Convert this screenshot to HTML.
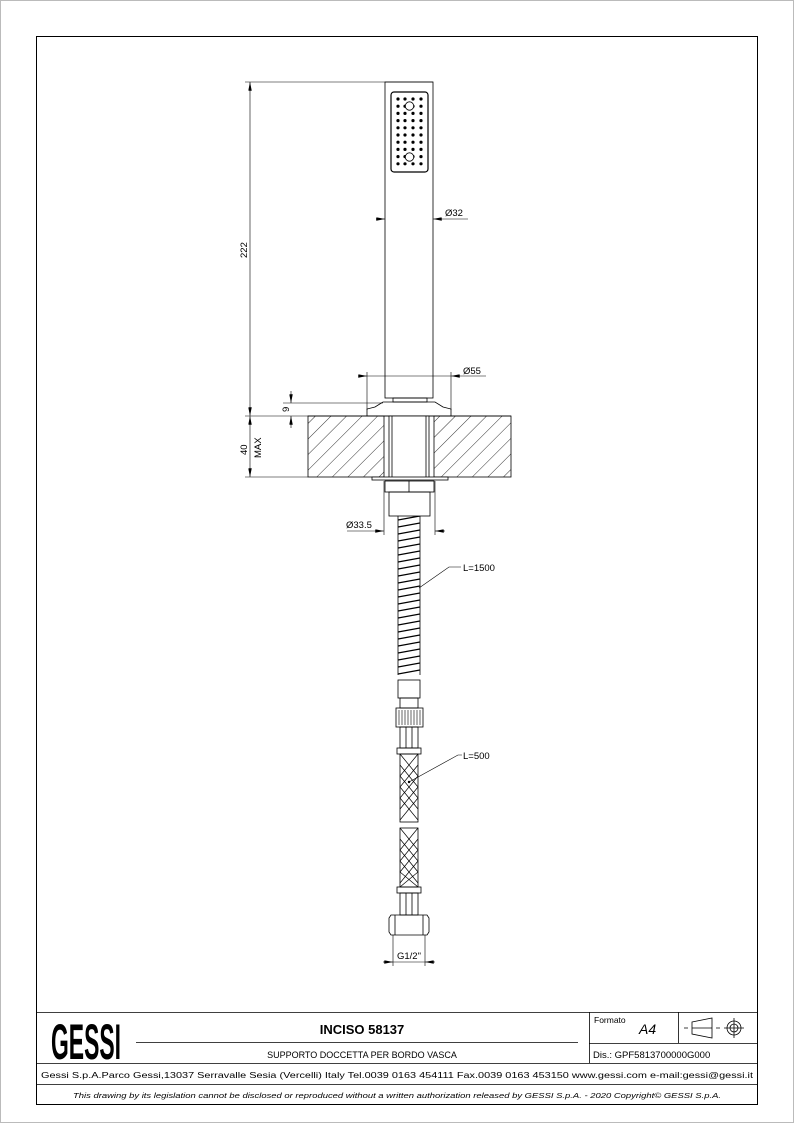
<!DOCTYPE html>
<html><head><meta charset="utf-8"><style>
html,body{margin:0;padding:0;background:#fff}
svg{display:block}
text{font-family:"Liberation Sans",Arial,sans-serif;fill:#000}
</style></head><body>
<svg width="794" height="1123" viewBox="0 0 794 1123" xmlns="http://www.w3.org/2000/svg">
<defs>
<marker id="ar" viewBox="0 0 10 4" refX="10" refY="2" markerUnits="userSpaceOnUse" markerWidth="9" markerHeight="3.5" orient="auto-start-reverse"><path d="M0,0 L10,2 L0,4 z" fill="#000"/></marker>
<pattern id="hatch" patternUnits="userSpaceOnUse" width="11" height="11" patternTransform="rotate(45)"><line x1="0" y1="0" x2="0" y2="11" stroke="#000" stroke-width="0.8"/></pattern>
<clipPath id="hoseclip"><rect x="398" y="516" width="22" height="159"/></clipPath>
</defs>
<rect x="0.5" y="0.5" width="793" height="1122" fill="none" stroke="#bbb"/>
<rect x="36.5" y="36.5" width="721" height="1068" fill="none" stroke="#000" stroke-width="1"/>

<g fill="none" stroke="#000" stroke-width="0.8">
<rect x="385" y="82" width="48" height="316"/>
<rect x="391" y="92" width="37" height="80" rx="3" stroke-width="1.2"/>
<line x1="245" y1="82" x2="433" y2="82" stroke-width="0.6"/>
<line x1="250" y1="82" x2="250" y2="416" marker-start="url(#ar)" marker-end="url(#ar)" stroke-width="0.6"/>
<line x1="245" y1="416" x2="308" y2="416" stroke-width="0.6"/>
<line x1="250" y1="416" x2="250" y2="477" marker-start="url(#ar)" marker-end="url(#ar)" stroke-width="0.6"/>
<line x1="245" y1="477" x2="308" y2="477" stroke-width="0.6"/>
<line x1="376" y1="219" x2="385" y2="219" marker-end="url(#ar)" stroke-width="0.6"/>
<line x1="433" y1="219" x2="468" y2="219" marker-start="url(#ar)" stroke-width="0.6"/>
<line x1="360" y1="376" x2="367" y2="376" marker-end="url(#ar)" stroke-width="0.6"/>
<line x1="367" y1="376" x2="451" y2="376" stroke-width="0.6"/>
<line x1="451" y1="376" x2="486" y2="376" marker-start="url(#ar)" stroke-width="0.6"/>
<line x1="367" y1="372" x2="367" y2="410" stroke-width="0.6"/>
<line x1="451" y1="372" x2="451" y2="410" stroke-width="0.6"/>
<rect x="393" y="398" width="34" height="4"/>
<path d="M383,402 L435,402 L443,407 L451,409 L451,416 L367,416 L367,409 L375,407 Z"/>
<line x1="283" y1="403" x2="383" y2="403" stroke-width="0.6"/>
<line x1="291" y1="391" x2="291" y2="403" marker-end="url(#ar)" stroke-width="0.6"/>
<line x1="291" y1="428" x2="291" y2="416" marker-end="url(#ar)" stroke-width="0.6"/>
</g>
<rect x="308" y="416" width="76" height="61" fill="url(#hatch)" stroke="#000" stroke-width="0.8"/>
<rect x="434" y="416" width="77" height="61" fill="url(#hatch)" stroke="#000" stroke-width="0.8"/>
<g fill="none" stroke="#000" stroke-width="0.8">
<line x1="308" y1="416" x2="511" y2="416"/>
<rect x="389" y="416" width="40" height="62" fill="#fff"/>
<line x1="392" y1="416" x2="392" y2="478"/><line x1="426" y1="416" x2="426" y2="478"/>
<rect x="372" y="477" width="76" height="3" fill="#fff"/>
<rect x="385" y="481" width="49" height="11"/>
<line x1="409" y1="481" x2="409" y2="492"/>
<rect x="389" y="492" width="41" height="24"/>
<line x1="384" y1="481" x2="384" y2="535" stroke-width="0.6"/>
<line x1="435" y1="481" x2="435" y2="535" stroke-width="0.6"/>
<line x1="347" y1="531" x2="384" y2="531" marker-end="url(#ar)" stroke-width="0.6"/>
<line x1="445" y1="531" x2="435" y2="531" marker-end="url(#ar)" stroke-width="0.6"/>
<line x1="398" y1="516" x2="398" y2="675"/><line x1="420" y1="516" x2="420" y2="675"/>
<g clip-path="url(#hoseclip)" stroke-width="1.3">
<path d="M398,520 l22,-4 M398,527 l22,-4 M398,534 l22,-4 M398,541 l22,-4 M398,548 l22,-4 M398,555 l22,-4 M398,562 l22,-4 M398,569 l22,-4 M398,576 l22,-4 M398,583 l22,-4 M398,590 l22,-4 M398,597 l22,-4 M398,604 l22,-4 M398,611 l22,-4 M398,618 l22,-4 M398,625 l22,-4 M398,632 l22,-4 M398,639 l22,-4 M398,646 l22,-4 M398,653 l22,-4 M398,660 l22,-4 M398,667 l22,-4 M398,674 l22,-4"/>
</g>
<rect x="398" y="680" width="22" height="18"/>
<rect x="400" y="698" width="18" height="10"/>
<rect x="396" y="708" width="27" height="19"/>
<path d="M399,710 v15 M402,710 v15 M405,710 v15 M408,710 v15 M411,710 v15 M414,710 v15 M417,710 v15 M420,710 v15" stroke-width="0.6"/>
<rect x="400" y="727" width="18" height="21"/>
<line x1="406" y1="727" x2="406" y2="748"/><line x1="412" y1="727" x2="412" y2="748"/>
<rect x="397" y="748" width="24" height="6"/>
<rect x="400" y="754" width="18" height="68"/>
<path d="M400,754 L418,776 L400,798 L418,820 M418,754 L400,776 L418,798 L400,820 M400,765 L418,787 L400,809 M418,765 L400,787 L418,809" stroke-width="0.7"/>
<rect x="400" y="828" width="18" height="59"/>
<path d="M400,828 L418,850 L400,872 L418,887 M418,828 L400,850 L418,872 L400,887 M400,839 L418,861 L400,883 M418,839 L400,861 L418,883" stroke-width="0.7"/>
<rect x="397" y="887" width="24" height="6"/>
<rect x="400" y="893" width="18" height="22"/>
<line x1="406" y1="893" x2="406" y2="915"/><line x1="412" y1="893" x2="412" y2="915"/>
<path d="M391,915 L427,915 L429,918 L429,932 L427,935 L391,935 L389,932 L389,918 Z"/>
<line x1="395" y1="915" x2="395" y2="935"/><line x1="423" y1="915" x2="423" y2="935"/>
<line x1="393" y1="935" x2="393" y2="966" stroke-width="0.6"/>
<line x1="425" y1="935" x2="425" y2="966" stroke-width="0.6"/>
<line x1="383" y1="962" x2="393" y2="962" marker-end="url(#ar)" stroke-width="0.6"/>
<line x1="435" y1="962" x2="425" y2="962" marker-end="url(#ar)" stroke-width="0.6"/>
<line x1="393" y1="962" x2="425" y2="962" stroke-width="0.6"/>
<polyline points="419,588 449,567 461,567" stroke-width="0.6"/>
<polyline points="409,782 458,755 462,755" stroke-width="0.6"/>
</g>
<circle cx="409" cy="782" r="1.2" fill="#000"/>
<g fill="#000">
<g id="row"><circle cx="398" cy="99" r="1.6"/><circle cx="405" cy="99" r="1.6"/><circle cx="413" cy="99" r="1.6"/><circle cx="421" cy="99" r="1.6"/></g>
<use href="#row" y="7.2"/><use href="#row" y="14.4"/><use href="#row" y="21.6"/><use href="#row" y="28.8"/><use href="#row" y="36"/><use href="#row" y="43.2"/><use href="#row" y="50.4"/><use href="#row" y="57.6"/><use href="#row" y="64.8"/>
</g>
<circle cx="409.5" cy="106" r="4.2" fill="#fff" stroke="#000" stroke-width="0.8"/>
<circle cx="409.5" cy="157" r="4.2" fill="#fff" stroke="#000" stroke-width="0.8"/>
<g font-size="9.5">
<text x="445" y="216">Ø32</text>
<text x="463" y="374">Ø55</text>
<text x="346" y="528">Ø33.5</text>
<text x="463" y="571">L=1500</text>
<text x="463" y="759">L=500</text>
<text x="397" y="959">G1/2"</text>
<text transform="translate(247,258) rotate(-90)">222</text>
<text transform="translate(289,412) rotate(-90)">9</text>
<text transform="translate(247,455) rotate(-90)">40</text>
<text transform="translate(261,458) rotate(-90)">MAX</text>
</g>
<g fill="none" stroke="#000" stroke-width="0.8">
<line x1="36" y1="1012.5" x2="758" y2="1012.5"/>
<line x1="36" y1="1063.5" x2="758" y2="1063.5"/>
<line x1="36" y1="1084.5" x2="758" y2="1084.5"/>
<line x1="136" y1="1042.5" x2="578" y2="1042.5"/>
<line x1="589.5" y1="1012" x2="589.5" y2="1063"/>
<line x1="589" y1="1043.5" x2="758" y2="1043.5"/>
<line x1="678.5" y1="1012" x2="678.5" y2="1043"/>
<path d="M684,1028 h4 M692,1022 L712,1018 L712,1038 L692,1034 Z M692,1028 h20 M716,1028 h4"/>
<circle cx="734" cy="1028" r="7"/><circle cx="734" cy="1028" r="4"/>
<path d="M724,1028 h20 M734,1018 v20"/>
</g>
<text x="51" y="1059" font-size="50" font-weight="bold" textLength="70" lengthAdjust="spacingAndGlyphs">GESSI</text>
<text x="362" y="1034" font-size="13" font-weight="bold" text-anchor="middle">INCISO 58137</text>
<text x="362" y="1058" font-size="9" text-anchor="middle">SUPPORTO DOCCETTA PER BORDO VASCA</text>
<text x="594" y="1023" font-size="8.5">Formato</text>
<text x="639" y="1034" font-size="14" font-style="italic">A4</text>
<text x="593" y="1058" font-size="9.5">Dis.: GPF5813700000G000</text>
<text x="397" y="1078" font-size="8.6" text-anchor="middle" textLength="712" lengthAdjust="spacingAndGlyphs">Gessi S.p.A.Parco Gessi,13037 Serravalle Sesia (Vercelli) Italy Tel.0039 0163 454111 Fax.0039 0163 453150 www.gessi.com e-mail:gessi@gessi.it</text>
<text x="397" y="1098" font-size="7" font-style="italic" text-anchor="middle" textLength="648" lengthAdjust="spacingAndGlyphs">This drawing by its legislation cannot be disclosed or reproduced without a written authorization released by GESSI S.p.A. - 2020 Copyright© GESSI S.p.A.</text>
</svg>
</body></html>
